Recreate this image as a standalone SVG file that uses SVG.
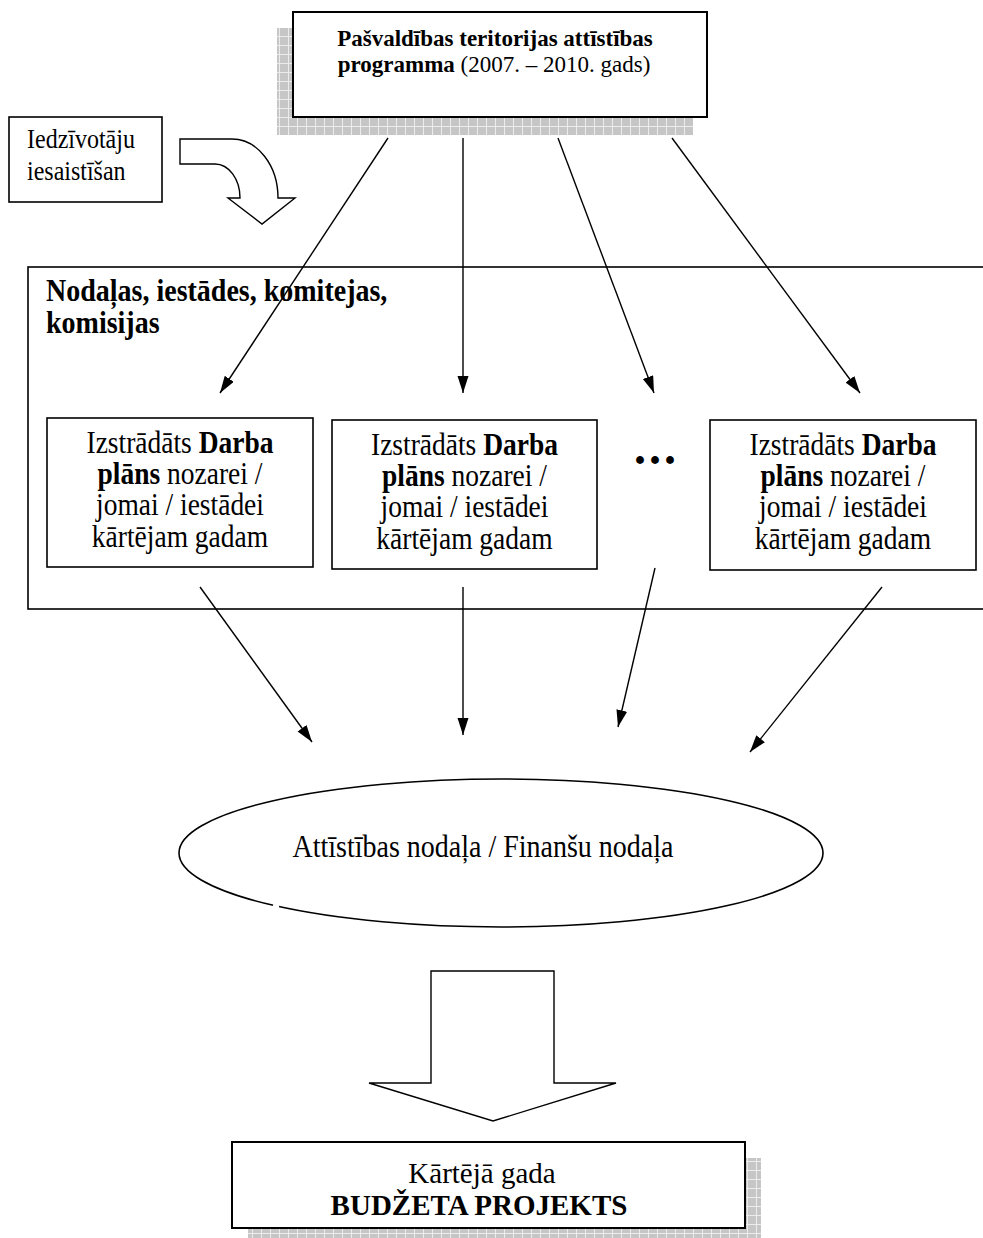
<svg xmlns="http://www.w3.org/2000/svg" width="983" height="1238" viewBox="0 0 983 1238">
<style>
.t{font-family:"Liberation Serif","Times New Roman",serif;fill:#000}
.b{font-weight:bold}
.box{fill:#fff;stroke:#000;stroke-width:1.6}
.bx2{fill:#fff;stroke:#000;stroke-width:2}
.ln{stroke:#000;stroke-width:1.4;fill:none}
.sh{fill:url(#grid);stroke:none}
</style>
<defs>
<pattern id="grid" width="9" height="9" patternUnits="userSpaceOnUse">
<rect width="9" height="9" fill="#c6c6c6"/>
<path d="M0,0.5H9M0.5,0V9" stroke="#ececec" stroke-width="1"/>
</pattern>
<marker id="ah" markerUnits="userSpaceOnUse" markerWidth="18" markerHeight="12" refX="17" refY="5.5" orient="auto">
<path d="M0,0 L17,5.5 L0,11 Z" fill="#000"/>
</marker>
</defs>

<g id="top">
<rect class="sh" x="277" y="28" width="416" height="107"/>
<rect class="bx2" x="293" y="12" width="414" height="105"/>
<text class="t b" font-size="23" text-anchor="middle" x="495" y="46">Pašvaldības teritorijas attīstības</text>
<text class="t" font-size="23" text-anchor="middle" x="494" y="72"><tspan class="b">programma</tspan> (2007. – 2010. gads)</text>
</g>

<g id="iedzivotaji">
<rect class="box" x="9" y="117" width="153" height="85"/>
<text class="t" font-size="24" transform="translate(27,148) scale(1,1.14)">Iedzīvotāju</text>
<text class="t" font-size="24" transform="translate(27,180) scale(1,1.14)">iesaistīšan</text>
</g>

<g id="curved-arrow">
<path class="ln" stroke-width="1.6" fill="#fff" d="M180,139 L232,139 A46,59 0 0 1 278,198 L295,198 L262,224 L228,198 L240,198 A25,34 0 0 0 215,164 L180,164 Z"/>
</g>

<g id="container">
<rect class="box" x="28" y="267" width="1000" height="342"/>
<text class="t b" font-size="28" transform="translate(46,301) scale(1,1.14)">Nodaļas, iestādes, komitejas,</text>
<text class="t b" font-size="28" transform="translate(46,333) scale(1,1.14)">komisijas</text>
</g>

<g id="plan1">
<rect class="box" x="47" y="418" width="266" height="149"/>
<text class="t" font-size="27.5" text-anchor="middle" transform="translate(180,453) scale(1,1.14)">Izstrādāts <tspan class="b">Darba</tspan></text>
<text class="t" font-size="27.5" text-anchor="middle" transform="translate(180,484) scale(1,1.14)"><tspan class="b">plāns</tspan> nozarei /</text>
<text class="t" font-size="27.5" text-anchor="middle" transform="translate(180,515) scale(1,1.14)">jomai / iestādei</text>
<text class="t" font-size="27.5" text-anchor="middle" transform="translate(180,547) scale(1,1.14)">kārtējam gadam</text>
</g>

<g id="plan2">
<rect class="box" x="332" y="420" width="265" height="149"/>
<text class="t" font-size="27.5" text-anchor="middle" transform="translate(464.5,455) scale(1,1.14)">Izstrādāts <tspan class="b">Darba</tspan></text>
<text class="t" font-size="27.5" text-anchor="middle" transform="translate(464.5,486) scale(1,1.14)"><tspan class="b">plāns</tspan> nozarei /</text>
<text class="t" font-size="27.5" text-anchor="middle" transform="translate(464.5,517) scale(1,1.14)">jomai / iestādei</text>
<text class="t" font-size="27.5" text-anchor="middle" transform="translate(464.5,549) scale(1,1.14)">kārtējam gadam</text>
</g>

<g id="dots">
<text class="t b" font-size="48" letter-spacing="3" x="634" y="464">...</text>
</g>

<g id="plan3">
<rect class="box" x="710" y="420" width="266" height="150"/>
<text class="t" font-size="27.5" text-anchor="middle" transform="translate(843,455) scale(1,1.14)">Izstrādāts <tspan class="b">Darba</tspan></text>
<text class="t" font-size="27.5" text-anchor="middle" transform="translate(843,486) scale(1,1.14)"><tspan class="b">plāns</tspan> nozarei /</text>
<text class="t" font-size="27.5" text-anchor="middle" transform="translate(843,517) scale(1,1.14)">jomai / iestādei</text>
<text class="t" font-size="27.5" text-anchor="middle" transform="translate(843,549) scale(1,1.14)">kārtējam gadam</text>
</g>

<g id="finance">
<ellipse class="box" cx="501" cy="853" rx="322" ry="74"/>
<line x1="273" y1="905.3" x2="279" y2="906.7" stroke="#fff" stroke-width="3"/>
<text class="t" font-size="28" text-anchor="middle" transform="translate(483,857) scale(1,1.14)">Attīstības nodaļa / Finanšu nodaļa</text>
</g>

<g id="block-arrow">
<path class="ln" stroke-width="1.6" fill="#fff" d="M431,971 L554,971 L554,1083 L616,1083 L493,1121 L369,1083 L431,1083 Z"/>
</g>

<g id="budget">
<rect class="sh" x="248" y="1158" width="513" height="86"/>
<rect class="bx2" x="232" y="1142" width="513" height="86"/>
<text class="t" font-size="29" text-anchor="middle" x="482" y="1183">Kārtējā gada</text>
<text class="t b" font-size="29" text-anchor="middle" x="479" y="1215">BUDŽETA PROJEKTS</text>
</g>

<g id="connectors">
<line class="ln" x1="388" y1="138" x2="220" y2="393" marker-end="url(#ah)"/>
<line class="ln" x1="463" y1="138" x2="463" y2="393" marker-end="url(#ah)"/>
<line class="ln" x1="558" y1="138" x2="654" y2="393" marker-end="url(#ah)"/>
<line class="ln" x1="672" y1="138" x2="860" y2="393" marker-end="url(#ah)"/>
<line class="ln" x1="200" y1="587" x2="312" y2="742" marker-end="url(#ah)"/>
<line class="ln" x1="463" y1="587" x2="463" y2="735" marker-end="url(#ah)"/>
<line class="ln" x1="655" y1="568" x2="618" y2="727" marker-end="url(#ah)"/>
<line class="ln" x1="882" y1="587" x2="750" y2="752" marker-end="url(#ah)"/>
</g>
</svg>
